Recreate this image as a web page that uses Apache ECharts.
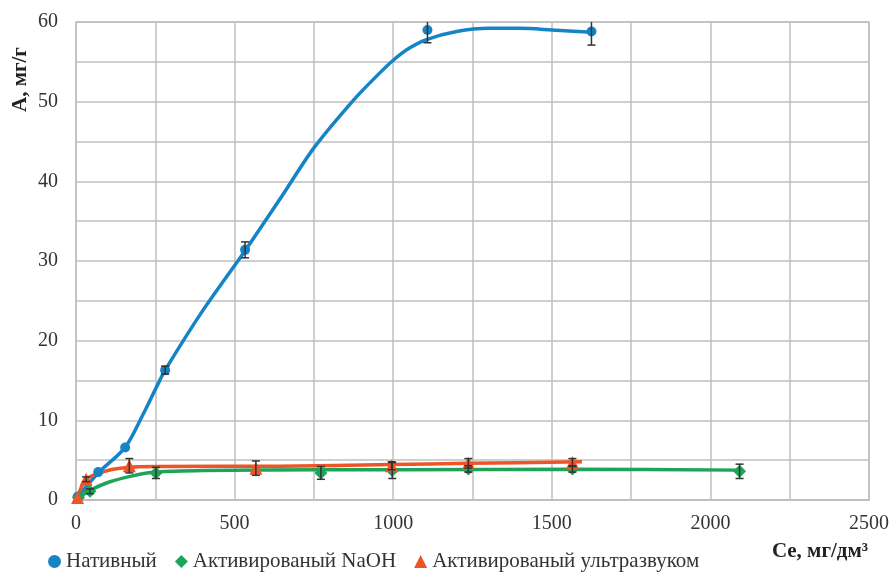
<!DOCTYPE html>
<html><head><meta charset="utf-8">
<script src="https://cdn.jsdelivr.net/npm/echarts@6/dist/echarts.min.js"></script>
<style>html,body{margin:0;padding:0;background:#fff}#c{width:892px;height:572px}</style>
</head><body><div id="c"></div>
<script>
const seriesNames = ['Нативный', 'Активированый NaOH', 'Активированый ультразвуком'];
const xAxisTitle = 'Ce, мг/дм³';
const yAxisTitle = 'A, мг/г';
const xTickLabels = ['0', '500', '1000', '1500', '2000', '2500'];
const yTickLabels = ['0', '10', '20', '30', '40', '50', '60'];

// measured points
const nativeX = [5, 70, 155, 281, 533, 1108, 1625];
const nativeY = [0.4, 3.5, 6.6, 16.3, 31.4, 59.0, 58.8];
const nativeErr = [0, 0, 0, 0.5, 1.0, 1.6, 1.7];
const naohX = [8, 44, 252, 772, 997, 1237, 1565, 2092];
const naohY = [0.3, 1.1, 3.4, 3.4, 3.7, 3.9, 3.9, 3.6];
const naohErr = [0, 0.3, 0.7, 0.8, 1.0, 0.4, 0.4, 0.9];
const usX = [5, 32, 168, 567, 995, 1237, 1565];
const usY = [0.3, 2.6, 4.3, 4.0, 4.3, 4.6, 4.7];
const usErr = [0, 0.3, 0.9, 0.9, 0.5, 0.6, 0.5];

// smoothed curves
const nativeCurveX = [5, 70, 155, 212, 254, 281, 400, 533, 650, 750, 875, 950, 1000, 1050, 1105, 1200, 1300, 1400, 1500, 1625];
const nativeCurveY = [0.4, 3.4, 6.6, 10.8, 14.2, 16.3, 23.8, 31.3, 38.2, 44.2, 50.2, 53.3, 55.2, 56.7, 57.8, 58.8, 59.2, 59.2, 59.0, 58.7];
const naohCurveX = [8, 44, 100, 175, 252, 400, 772, 997, 1565, 2092];
const naohCurveY = [0.3, 1.2, 2.2, 3.0, 3.5, 3.7, 3.8, 3.8, 3.85, 3.75];
const usCurveX = [5, 32, 100, 168, 250, 643, 995, 1237, 1595];
const usCurveY = [0.3, 2.6, 3.7, 4.1, 4.2, 4.25, 4.45, 4.6, 4.8];

const colors = ['#1584c6', '#1ea358', '#ee5427'];
const symbols = ['circle', 'diamond', 'triangle'];
const symbolSizes = [10, 13, 13];
const font = 'Liberation Serif';
const X_MAX = 2500, Y_MAX = 60;

const zip = (xs, ys) => xs.map((x, i) => [x, ys[i]]);
const zip3 = (xs, ys, es) => xs.map((x, i) => [x, ys[i], es[i]]);

const curves = [zip(nativeCurveX, nativeCurveY), zip(naohCurveX, naohCurveY), zip(usCurveX, usCurveY)];
const points = [zip(nativeX, nativeY), zip(naohX, naohY), zip(usX, usY)];
const errs = [zip3(nativeX, nativeY, nativeErr), zip3(naohX, naohY, naohErr), zip3(usX, usY, usErr)];

function errRender(params, api) {
  const x = api.value(0), y = api.value(1), e = api.value(2);
  if (!e) return null;
  const hiV = Math.min(y + e, Y_MAX), loV = Math.max(y - e, 0);
  const hi = api.coord([x, hiV]), lo = api.coord([x, loV]);
  const cw = 4;
  const st = { stroke: '#333', lineWidth: 1.5 };
  const children = [{ type: 'line', shape: { x1: hi[0], y1: hi[1], x2: lo[0], y2: lo[1] }, style: st },
    { type: 'line', shape: { x1: lo[0] - cw, y1: lo[1], x2: lo[0] + cw, y2: lo[1] }, style: st }];
  if (y + e <= Y_MAX) children.push({ type: 'line', shape: { x1: hi[0] - cw, y1: hi[1], x2: hi[0] + cw, y2: hi[1] }, style: st });
  return { type: 'group', children };
}

const series = [];
for (let i = 0; i < 3; i++) {
  series.push({
    name: seriesNames[i] + ' curve', type: 'line', data: curves[i], smooth: 0.3,
    showSymbol: false, symbol: 'none', lineStyle: { color: colors[i], width: 3.5 }, z: 2 + i, silent: true
  });
}
for (let i = 0; i < 3; i++) {
  series.push({
    name: seriesNames[i], type: 'scatter', data: points[i], symbol: symbols[i], symbolSize: symbolSizes[i],
    itemStyle: { color: colors[i], opacity: 1 }, z: 6 + i
  });
}
for (let i = 0; i < 3; i++) {
  series.push({ name: seriesNames[i] + ' err', type: 'custom', data: errs[i], renderItem: errRender, z: 10, silent: true });
}

const chart = echarts.init(document.getElementById('c'), null, { renderer: 'canvas' });
chart.setOption({
  animation: false,
  backgroundColor: '#fff',
  color: colors,
  grid: { left: 76, top: 22, width: 793, height: 478, show: true, borderColor: '#bfbfbf', borderWidth: 1.5, containLabel: false },
  legend: {
    data: seriesNames.map((n, i) => ({ name: n, icon: symbols[i] })),
    left: 43, top: 546, itemWidth: 13, itemHeight: 13, itemGap: 18,
    textStyle: { fontFamily: font, fontSize: 21, color: '#333' }
  },
  xAxis: {
    type: 'value', min: 0, max: X_MAX, interval: 250,
    axisLine: { show: true, lineStyle: { color: '#bfbfbf', width: 1.5 } },
    axisTick: { show: false },
    splitLine: { show: true, lineStyle: { color: '#bfbfbf', width: 1.5 } },
    axisLabel: {
      margin: 14, fontFamily: font, fontSize: 20, color: '#333',
      formatter: v => (v % 500 === 0 ? xTickLabels[v / 500] : '')
    }
  },
  yAxis: {
    type: 'value', min: 0, max: Y_MAX, interval: 5,
    axisLine: { show: false },
    axisTick: { show: false },
    splitLine: { show: true, lineStyle: { color: '#bfbfbf', width: 1.5 } },
    axisLabel: {
      margin: 18, fontFamily: font, fontSize: 20, color: '#333',
      formatter: v => (v % 10 === 0 ? yTickLabels[v / 10] : '')
    }
  },
  graphic: [
    { type: 'text', x: 868, y: 552, style: { text: xAxisTitle, fontFamily: font, fontSize: 21, fontWeight: 'bold', fill: '#222', textAlign: 'right', textVerticalAlign: 'middle' } },
    { type: 'text', x: 10, y: 112, rotation: Math.PI / 2, style: { text: yAxisTitle, fontFamily: font, fontSize: 21, fontWeight: 'bold', fill: '#222', textAlign: 'left', textVerticalAlign: 'top' } }
  ],
  series
});
</script>
</body></html>
